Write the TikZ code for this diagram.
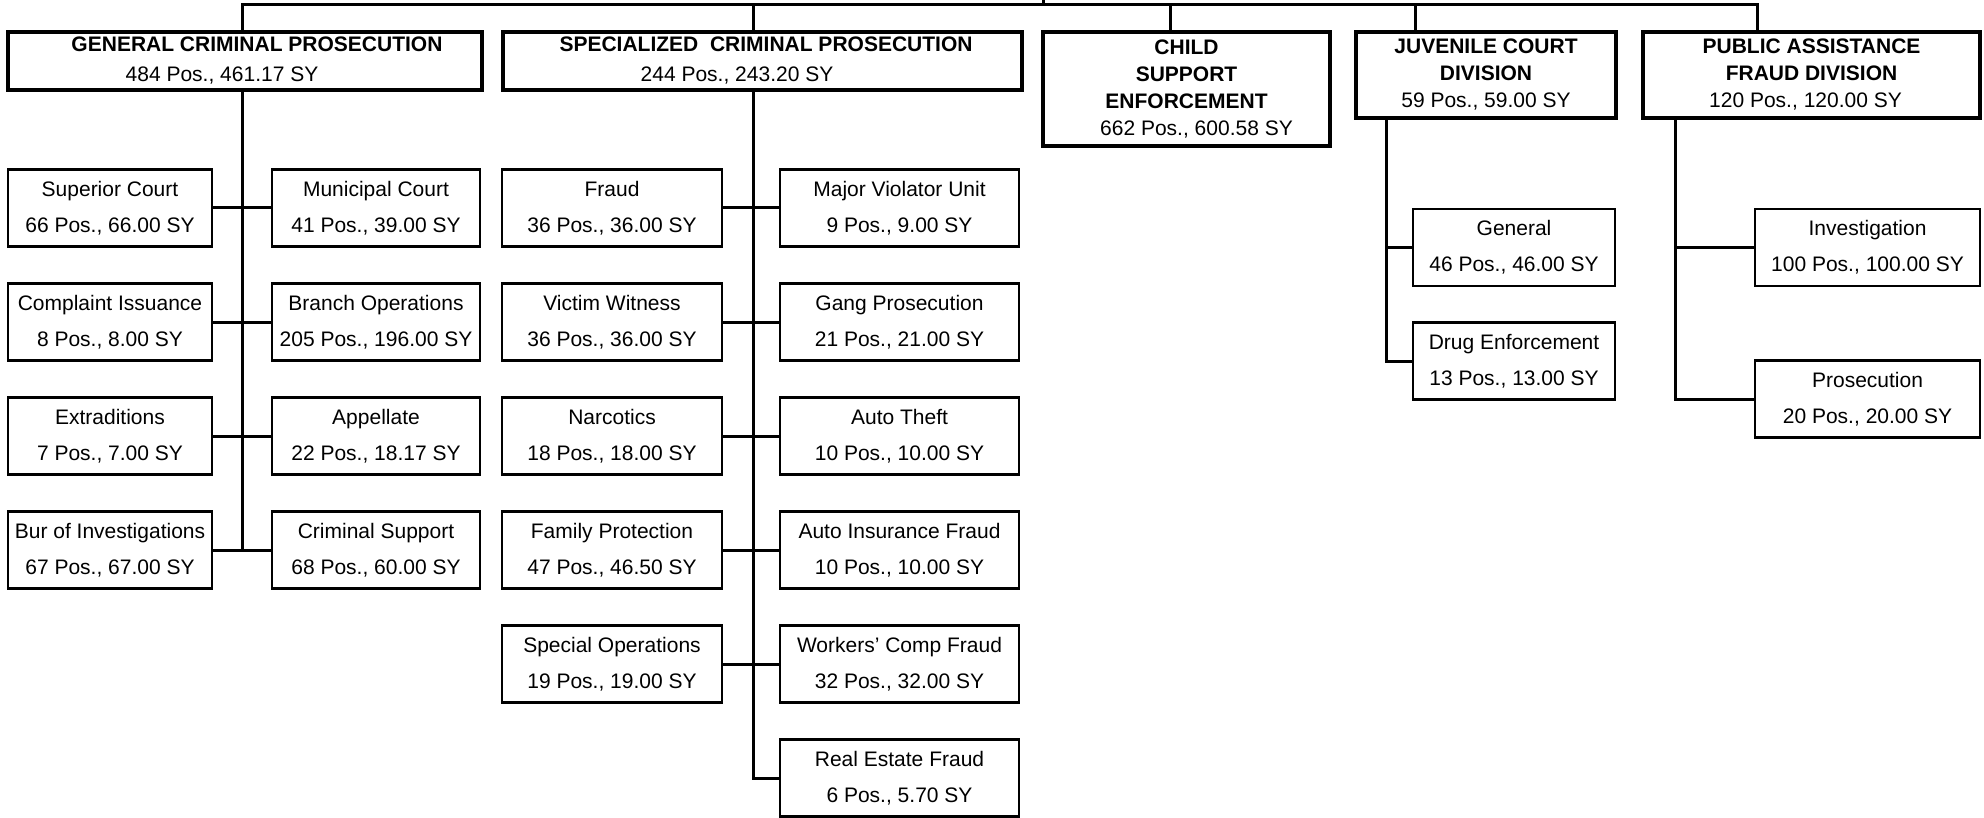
\documentclass[tikz,border=0pt]{standalone}
\usepackage{fontspec}
\setmainfont{Liberation Sans}
\newcommand\myupstrut{\rule{0pt}{11pt}}
\begin{document}
\begin{tikzpicture}[x=0.5pt,y=-0.5pt,
  topbox/.style={draw, line width=2.3pt, inner sep=0pt, align=center,
    font=\fontsize{10.5}{13.5}\selectfont},
  topboxw/.style={topbox, font=\fontsize{10.5}{15}\selectfont},
  subbox/.style={draw, line width=1.2pt, inner sep=0pt, minimum height=38.5pt,
    align=center, font=\fontsize{10.5}{18}\selectfont,
    execute at begin node=\myupstrut},
  conn/.style={line width=1.5pt}]
\useasboundingbox[fill=white] (0,0) rectangle (1984,818);

% top level boxes
\node[topboxw, minimum width=237pt, minimum height=29pt] (gcp) at (245,61)
  {\hspace*{12pt}\textbf{GENERAL CRIMINAL PROSECUTION}\\484 Pos., 461.17 SY\hspace*{23pt}};
\node[topboxw, minimum width=259.5pt, minimum height=29pt] (scp) at (762.5,61)
  {\hspace*{3.5pt}\textbf{SPECIALIZED\ \ CRIMINAL PROSECUTION}\\244 Pos., 243.20 SY\hspace*{25.5pt}};
\node[topbox, minimum width=143.5pt, minimum height=57pt] (cse) at (1186.5,89)
  {\textbf{CHILD}\\\textbf{SUPPORT}\\\textbf{ENFORCEMENT}\\\hspace*{10pt}662 Pos., 600.58 SY};
\node[topbox, minimum width=130pt, minimum height=43pt] (jcd) at (1486,75)
  {\textbf{JUVENILE COURT}\\\textbf{DIVISION}\\59 Pos., 59.00 SY};
\node[topbox, minimum width=168.5pt, minimum height=43pt] (pafd) at (1811.5,75)
  {\textbf{PUBLIC ASSISTANCE}\\\textbf{FRAUD DIVISION}\\120 Pos., 120.00 SY\hspace*{6pt}};

% general criminal prosecution units
\node[subbox, minimum width=102pt] (sup) at (110,208) {Superior Court\\66 Pos., 66.00 SY};
\node[subbox, minimum width=104pt] (mun) at (376,208) {Municipal Court\\41 Pos., 39.00 SY};
\node[subbox, minimum width=102pt] (cmp) at (110,322) {Complaint Issuance\\8 Pos., 8.00 SY};
\node[subbox, minimum width=104pt] (bra) at (376,322) {Branch Operations\\205 Pos., 196.00 SY};
\node[subbox, minimum width=102pt] (ext) at (110,436) {Extraditions\\7 Pos., 7.00 SY};
\node[subbox, minimum width=104pt] (app) at (376,436) {Appellate\\22 Pos., 18.17 SY};
\node[subbox, minimum width=102pt] (bur) at (110,550) {Bur of Investigations\\67 Pos., 67.00 SY};
\node[subbox, minimum width=104pt] (crs) at (376,550) {Criminal Support\\68 Pos., 60.00 SY};

% specialized criminal prosecution units
\node[subbox, minimum width=110pt] (frd) at (612,208) {Fraud\\36 Pos., 36.00 SY};
\node[subbox, minimum width=119.5pt] (mvu) at (899.5,208) {Major Violator Unit\\9 Pos., 9.00 SY};
\node[subbox, minimum width=110pt] (vic) at (612,322) {Victim Witness\\36 Pos., 36.00 SY};
\node[subbox, minimum width=119.5pt] (gng) at (899.5,322) {Gang Prosecution\\21 Pos., 21.00 SY};
\node[subbox, minimum width=110pt] (nar) at (612,436) {Narcotics\\18 Pos., 18.00 SY};
\node[subbox, minimum width=119.5pt] (aut) at (899.5,436) {Auto Theft\\10 Pos., 10.00 SY};
\node[subbox, minimum width=110pt] (fam) at (612,550) {Family Protection\\47 Pos., 46.50 SY};
\node[subbox, minimum width=119.5pt] (aif) at (899.5,550) {Auto Insurance Fraud\\10 Pos., 10.00 SY};
\node[subbox, minimum width=110pt] (spo) at (612,664) {Special Operations\\19 Pos., 19.00 SY};
\node[subbox, minimum width=119.5pt] (wcf) at (899.5,664) {Workers' Comp Fraud\\32 Pos., 32.00 SY};
\node[subbox, minimum width=119.5pt] (ref) at (899.5,778) {Real Estate Fraud\\6 Pos., 5.70 SY};

% juvenile court units
\node[subbox, minimum width=101pt] (gen) at (1514,247.5) {General\\46 Pos., 46.00 SY};
\node[subbox, minimum width=101pt] (drg) at (1514,361) {Drug Enforcement\\13 Pos., 13.00 SY};

% public assistance fraud units
\node[subbox, minimum width=112.5pt] (inv) at (1867.5,247.5) {Investigation\\100 Pos., 100.00 SY};
\node[subbox, minimum width=112.5pt] (pro) at (1867.5,399) {Prosecution\\20 Pos., 20.00 SY};

% connector points
\coordinate (root) at (1043,0);
\coordinate (bus) at (1043,5);
\coordinate (gx) at (242,5);
\coordinate (sx) at (753,5);
\coordinate (cx) at (1170,5);
\coordinate (jx) at (1415,5);
\coordinate (px) at (1757,5);
\coordinate (jd) at (1386,0);
\coordinate (pd) at (1675,0);

% top bus
\draw[conn] (root) -- (bus);
\draw[conn] (gcp.north -| gx) -- (gx) -- (px) -- (pafd.north -| px);
\draw[conn] (sx) -- (scp.north -| sx);
\draw[conn] (cx) -- (cse.north -| cx);
\draw[conn] (jx) -- (jcd.north -| jx);

% general criminal prosecution
\draw[conn] (gcp.south -| gx) -- (gx |- bur.east);
\draw[conn] (sup.east) -- (mun.west);
\draw[conn] (cmp.east) -- (bra.west);
\draw[conn] (ext.east) -- (app.west);
\draw[conn] (bur.east) -- (crs.west);

% specialized criminal prosecution
\draw[conn] (scp.south -| sx) -- (sx |- ref.west) -- (ref.west);
\draw[conn] (frd.east) -- (mvu.west);
\draw[conn] (vic.east) -- (gng.west);
\draw[conn] (nar.east) -- (aut.west);
\draw[conn] (fam.east) -- (aif.west);
\draw[conn] (spo.east) -- (wcf.west);

% juvenile court
\draw[conn] (jcd.south -| jd) -- (jd |- drg.west) -- (drg.west);
\draw[conn] (jd |- gen.west) -- (gen.west);

% public assistance fraud
\draw[conn] (pafd.south -| pd) -- (pd |- pro.west) -- (pro.west);
\draw[conn] (pd |- inv.west) -- (inv.west);
\end{tikzpicture}
\end{document}
